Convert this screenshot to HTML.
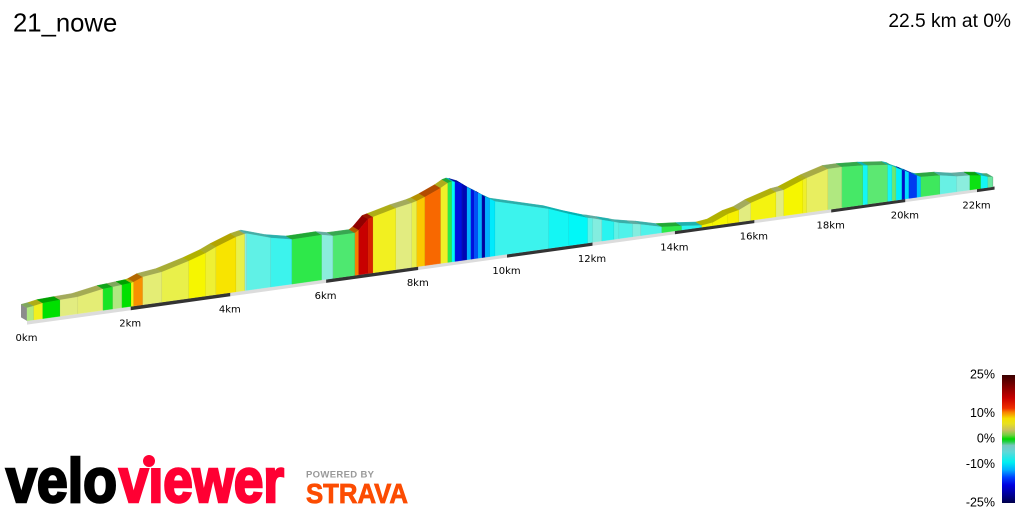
<!DOCTYPE html>
<html lang="en">
<head>
<meta charset="utf-8">
<title>21_nowe elevation profile</title>
<style>
html,body{margin:0;padding:0;background:#fff;width:1024px;height:512px;overflow:hidden}
svg{display:block}
text{font-family:"Liberation Sans",sans-serif}
</style>
</head>
<body>
<svg id="chart" xmlns="http://www.w3.org/2000/svg" width="1024" height="512" viewBox="0 0 1024 512">
  <rect width="1024" height="512" fill="#fff"/>
  <text x="13" y="31.5" font-size="25.7" fill="#000">21_nowe</text>
  <text x="1011" y="27" font-size="19.2" text-anchor="end" fill="#000">22.5 km at 0%</text>
  <g id="ground"></g>
  <g id="profile"></g>
  <g id="ticks"></g>
  <g id="legend"></g>
  <g>
    <text x="6" y="502" font-size="62" font-weight="700" fill="#000" stroke="#000" stroke-width="2.6" textLength="111" lengthAdjust="spacingAndGlyphs">velo</text>
    <text x="119" y="502" font-size="62" font-weight="700" fill="#ff0033" stroke="#ff0033" stroke-width="2.6" textLength="165" lengthAdjust="spacingAndGlyphs">viewer</text>
    <rect x="138" y="450" width="24" height="18" fill="#fff"/>
    <circle cx="149" cy="461" r="6" fill="#ff0033"/>
  </g>
  <g>
    <text x="306" y="477.5" font-size="9.5" font-weight="700" fill="#999" textLength="68" lengthAdjust="spacing">POWERED BY</text>
    <text x="306" y="503" font-size="28" font-weight="700" fill="#fc4c02" stroke="#fc4c02" stroke-width="0.8" textLength="102" lengthAdjust="spacingAndGlyphs">STRAVA</text>
  </g>
</svg>
<script>
// Distance (km) of each profile point
const distances = [0,0.13,0.30,0.63,0.97,1.46,1.65,1.83,2.01,2.06,2.24,2.62,3.16,3.50,3.71,4.12,4.30,4.34,4.84,5.28,5.91,6.15,6.62,6.70,6.90,7.01,7.51,7.86,7.97,8.15,8.50,8.66,8.75,8.82,8.98,9.09,9.18,9.25,9.34,9.43,9.50,9.61,9.73,10.97,11.44,11.89,12.01,12.23,12.52,12.64,12.97,13.17,13.68,14.17,14.67,14.95,15.33,15.61,15.91,16.56,16.76,17.26,17.36,17.92,18.29,18.85,18.98,19.52,19.64,19.75,19.91,19.99,20.1,20.32,20.43,20.96,21.43,21.8,22.11,22.31,22.45];
// Relative elevation of each profile point
const elevations = [13,13.9,15.6,16.4,17,21.6,22.3,23.1,23.9,24.5,28.4,30.9,38.6,44.5,49.4,57.2,59.1,59.3,51.4,47,47.6,45.1,45.2,47.9,58.4,59.8,66.3,69.6,71.1,74.4,82,86.5,87.6,86.7,83.5,79.6,76.3,74.2,71.6,68.8,66.2,63.2,59.8,43.8,35.3,28,26.7,23.6,19.6,17.7,14.4,12.6,6.5,4.5,2,3.6,11.1,13.9,20.2,29.1,30.2,39.1,40.8,48.2,48.3,46.9,46.1,43.7,41.8,38.7,35.4,33.7,31.2,25.7,23.9,22.6,18.7,17.7,15.8,12.9,12.1];
// Gradient (%) read for each segment between two profile points
const segmentGrades = [1.5,6,0,3,3.5,0.2,1.5,0,6.5,10,3.5,5,7,5.5,8.5,5,-2,-4,-6,0.4,-2.2,0.8,10.5,15,13,6,3,5,9.3,11,5.8,0.4,-9,-19,-21,-13,-19,-16,-13,-22,-13,-10,-6,-8,-9,-4,-2.5,-7,-4,-5,-2.5,-5,0.4,-7,7,7,7.5,3,6.5,3,7,5.8,4.5,1.5,0.7,-8,0.9,-8,1,-9.5,-20,-11,-17,-12,0.6,-3.5,-2.2,0.1,-8,-1];
const tickKm = [0,2,4,6,8,10,12,14,16,18,20,22];
const totalKm = 22.5;
const legendTicks = [25,10,0,-10,-25];
// Face colour scale: gradient value, colour
const scaleGrades = [-25,-22,-19,-16,-13,-11,-9,-7,-5,-3.5,-2,-1.2,0,0.4,0.8,1.5,3,4.5,5,6,7,8.5,9.3,10,11,13,15,25];
const scaleColours = ["#000040","#0000a0","#0010e0","#0050f8","#00b0ff","#00dcff","#00f8f8","#28f4f0","#50f2ea","#68f0e4","#90ecdc","#80e8c0","#00e000","#2ee84a","#4ee870","#b0e880","#e2ec80","#e8ee60","#e9f04a","#f2f020","#f6f600","#f8e400","#fbc800","#f89000","#f86800","#d82000","#c80000","#3a0000"];
// Legend bar colour ramp
const legendGrades = [25,16,12,10.5,8,6,3.5,1.5,0,-1,-2.5,-5,-9,-12,-15,-18,-22,-25];
const legendColours = ["#3a0000","#c80000","#f03000","#f88000","#f4e000","#e8e020","#c8c060","#70d040","#00d800","#20d040","#78c8c0","#60d8d8","#00f0f0","#00b0ff","#0040ff","#0000e0","#000090","#00004a"];

const NS = "http://www.w3.org/2000/svg";
const persp = 0.01025;
const depth = d => 1 + persp * d;
const xScale = d => 27 + 52.92 * d / depth(d);
const groundY = d => 321 - 0.1388 * (xScale(d) - 26);
const topY = (d, e) => groundY(d) - e / depth(d);
const legendY = g => 439 - 2.56 * g;
const backDx = -6, backDy = -3.5;

function make(tag, attrs, parent) {
  const el = document.createElementNS(NS, tag);
  for (const k in attrs) el.setAttribute(k, attrs[k]);
  parent.appendChild(el);
  return el;
}
function hexToRgb(h) {
  return [parseInt(h.slice(1,3),16), parseInt(h.slice(3,5),16), parseInt(h.slice(5,7),16)];
}
function gradeColour(g) {
  let i = 0;
  if (g <= scaleGrades[0]) return hexToRgb(scaleColours[0]);
  while (i < scaleGrades.length - 2 && g > scaleGrades[i + 1]) i++;
  const t = Math.min(1, (g - scaleGrades[i]) / (scaleGrades[i + 1] - scaleGrades[i]));
  const a = hexToRgb(scaleColours[i]), b = hexToRgb(scaleColours[i + 1]);
  return a.map((v, n) => Math.round(v + (b[n] - v) * t));
}
const css = (c, m) => "rgb(" + c.map(v => Math.round(v * m)).join(",") + ")";
const pts = list => list.map(p => p[0].toFixed(2) + "," + p[1].toFixed(2)).join(" ");

/* ground band, alternating every 2 km */
const groundG = document.getElementById("ground");
for (let i = 0; i < tickKm.length; i++) {
  const a = tickKm[i];
  const b = i + 1 < tickKm.length ? tickKm[i + 1] : totalKm;
  const poly = make("polygon", {
    points: pts([[xScale(a), groundY(a)], [xScale(b), groundY(b)],
                 [xScale(b), groundY(b) + 3.8 / depth(b)], [xScale(a), groundY(a) + 3.8 / depth(a)]]),
    fill: i % 2 ? "#333333" : "#dcdcdc"
  }, groundG);
  
  
}

/* profile */
const profileG = document.getElementById("profile");
const e0 = topY(distances[0], elevations[0]);
const gb0 = groundY(distances[0]);
const sx0 = xScale(distances[0]);
const startSide = make("polygon", {
  points: pts([[sx0, e0], [sx0 + backDx, e0 + backDy], [sx0 + backDx, gb0 + backDy], [sx0, gb0]]),
  fill: "#8c8c8c"
}, profileG);



segmentGrades.forEach((g, i) => {
  const d0 = distances[i], d1 = distances[i + 1];
  const x0 = xScale(d0), x1 = xScale(d1);
  const y0 = topY(d0, elevations[i]), y1 = topY(d1, elevations[i + 1]);
  const c = gradeColour(g);
  const band = make("polygon", {
    points: pts([[x0, y0], [x1, y1], [x1 + backDx, y1 + backDy], [x0 + backDx, y0 + backDy]]),
    fill: css(c, 0.72), stroke: css(c, 0.72), "stroke-width": 0.4
  }, profileG);
  
  
});
segmentGrades.forEach((g, i) => {
  const d0 = distances[i], d1 = distances[i + 1];
  const x0 = xScale(d0), x1 = xScale(d1);
  const y0 = topY(d0, elevations[i]), y1 = topY(d1, elevations[i + 1]);
  const c = gradeColour(g);
  const face = make("polygon", {
    points: pts([[x0, y0], [x1, y1], [x1, groundY(d1)], [x0, groundY(d0)]]),
    fill: css(c, 1), stroke: css(c, 1), "stroke-width": 0.3
  }, profileG);
  
  
  const edge = make("line", {
    x1: x1, y1: y1, x2: x1, y2: groundY(d1),
    stroke: "rgba(0,0,0,0.16)", "stroke-width": 1
  }, profileG);
  
  
});

/* distance tick labels */
const ticksG = document.getElementById("ticks");
tickKm.forEach(k => {
  const t = make("text", {
    x: xScale(k) - 0.5,
    y: groundY(k) + 16 + 4 / depth(k),
    "text-anchor": "middle", "font-size": 10, fill: "#000",
    style: 'font-family:"DejaVu Sans",sans-serif'
  }, ticksG);
  t.textContent = k + "km";
  
  
});

/* legend */
const legendG = document.getElementById("legend");
const defs = make("defs", {}, legendG);
const lg = make("linearGradient", {
  id: "legendRamp", gradientUnits: "userSpaceOnUse",
  x1: 0, x2: 0, y1: legendY(25), y2: legendY(-25)
}, defs);
legendGrades.forEach((g, i) => {
  make("stop", { offset: (25 - g) / 50, "stop-color": legendColours[i] }, lg);
});
const bar = make("rect", {
  x: 1002, y: legendY(25), width: 13, height: legendY(-25) - legendY(25), fill: "url(#legendRamp)"
}, legendG);


legendTicks.forEach(g => {
  const t = make("text", {
    x: 995, y: legendY(g) + 3.5, "text-anchor": "end", "font-size": 12.5, fill: "#000"
  }, legendG);
  t.textContent = g + "%";
  
  
});
</script>
</body>
</html>
